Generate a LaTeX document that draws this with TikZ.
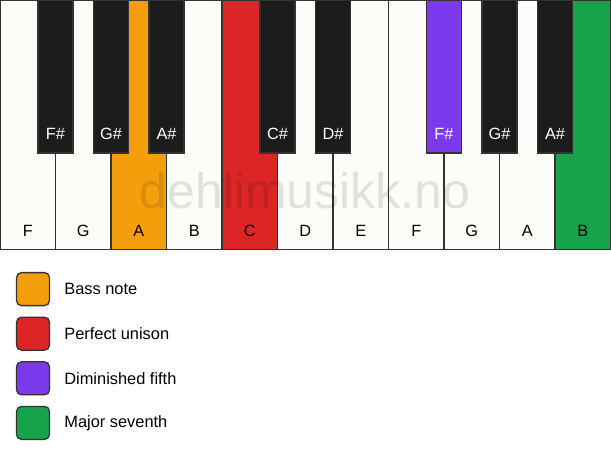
\documentclass[tikz,border=0pt]{standalone}
\usepackage{fontspec}
\setmainfont{Liberation Sans}
\usetikzlibrary{positioning}

\definecolor{keyline}{HTML}{333333}
\definecolor{keywhite}{HTML}{FDFCF9}
\definecolor{keyblack}{HTML}{1C1C1C}
\definecolor{bassnote}{HTML}{F59E0B}
\definecolor{unison}{HTML}{DC2626}
\definecolor{dimfifth}{HTML}{7C3AED}
\definecolor{majseventh}{HTML}{16A34A}

\begin{document}
\begin{tikzpicture}[x=1pt,y=-1pt,
	whitekey/.style={draw=keyline,line width=1.3pt,fill=keywhite},
	blackkey/.style={draw=keyline,line width=1.3pt,fill=keyblack},
	keylabel/.style={inner sep=0pt,font=\fontsize{16.3}{19}\selectfont},
	swatch/.style={draw=keyline,line width=1.3pt,rounded corners=5pt,
		minimum width=33pt,minimum height=33pt,inner sep=0pt},
	legendtext/.style={inner sep=0pt,anchor=west,font=\fontsize{16.4}{19}\selectfont}]
\useasboundingbox (0,0) rectangle (611,461);

% white keys
\foreach \n/\c [count=\i from 0] in {F/keywhite,G/keywhite,A/bassnote,B/keywhite,
	C/unison,D/keywhite,E/keywhite,F/keywhite,G/keywhite,A/keywhite,B/majseventh}
{
	\draw [whitekey,fill=\c] (55.5*\i,0) rectangle ++(55.5,249.5);
	\node [keylabel,anchor=base] (w\i) at (55.5*\i+27.75,236) {\n};
}

% black keys
\foreach \b/\n/\c in {1/F/keyblack,2/G/keyblack,3/A/keyblack,5/C/keyblack,
	6/D/keyblack,8/F/dimfifth,9/G/keyblack,10/A/keyblack}
{
	\draw [blackkey,fill=\c] (55.5*\b-17.5,0) rectangle ++(35,153);
	\node [keylabel,anchor=base,text=white] (s\b) at (55.5*\b,139) {\n\#};
}

\node [inner sep=0pt,anchor=base,text=black,opacity=0.11,
	font=\fontsize{50}{58}\selectfont] (mark) at (305,208) {dehlimusikk.no};

% legend
\foreach \c/\t [count=\i] in {bassnote/Bass note,unison/Perfect unison,
	dimfifth/Diminished fifth,majseventh/Major seventh}
{
	\node [swatch,fill=\c] (box\i) at (33,244.5+44.6*\i) {};
	\node [legendtext,right=14pt of box\i] (txt\i) {\t};
}
\end{tikzpicture}
\end{document}
